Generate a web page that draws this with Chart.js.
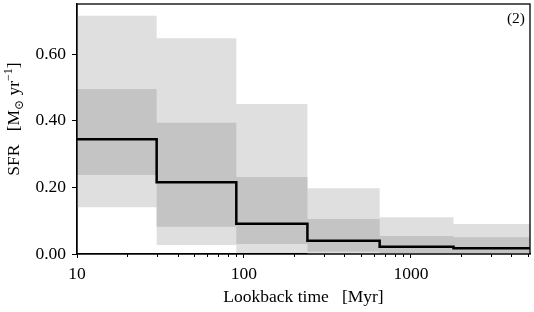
<!DOCTYPE html>
<html>
<head>
<meta charset="utf-8">
<script src="https://cdn.jsdelivr.net/npm/chart.js@4.4.0/dist/chart.umd.min.js"></script>
<style>
    html, body { margin: 0; padding: 0; background: #fff; }
    #wrap { width: 534px; height: 312px; }
</style>
</head>
<body>
<div id="wrap"><canvas id="sfrChart"></canvas></div>
<script>
// bin edges in Myr (last value closes the final step)
const binEdges = [10, 30, 90, 240, 650, 1800, 5170];
const sfrMedian = [0.344, 0.215, 0.091, 0.040, 0.022, 0.017];
const sfrInnerHigh = [0.495, 0.394, 0.231, 0.105, 0.054, 0.050];
const sfrInnerLow = [0.237, 0.082, 0.030, 0.007, 0.003, 0.003];
const sfrOuterHigh = [0.715, 0.647, 0.450, 0.197, 0.110, 0.090];
const sfrOuterLow = [0.140, 0.027, 0.003, 0.001, 0.001, 0.001];
const yTicks = [0, 0.2, 0.4, 0.6];
const xTicks = [10, 100, 1000];
const xMinorTicks = [20, 30, 40, 50, 60, 70, 80, 90, 200, 300, 400, 500, 600, 700, 800, 900, 2000, 3000, 4000, 5000];
const panelLabel = '(2)';

const font = "'Liberation Serif', 'DejaVu Serif', serif";

function steps(values) {
    const pts = values.map((v, i) => ({ x: binEdges[i], y: v }));
    pts.push({ x: binEdges[binEdges.length - 1], y: values[values.length - 1] });
    return pts;
}

// y title with subscript / superscript, drawn rotated
function drawYTitle(ctx, cx, cy) {
    const parts = [
        { t: 'SFR   [M', s: 17.5, dy: 0 },
        { t: '\u2299', s: 12, dy: 4 },
        { t: ' yr', s: 17.5, dy: 0 },
        { t: '\u22121', s: 12, dy: -7 },
        { t: ']', s: 17.5, dy: 0 }
    ];
    let total = 0;
    parts.forEach(p => { ctx.font = p.s + 'px ' + font; p.w = ctx.measureText(p.t).width; total += p.w; });
    ctx.save();
    ctx.translate(cx, cy);
    ctx.rotate(-Math.PI / 2);
    ctx.fillStyle = '#000';
    ctx.textBaseline = 'alphabetic';
    ctx.textAlign = 'left';
    let x = -total / 2;
    parts.forEach(p => {
        ctx.font = p.s + 'px ' + font;
        ctx.fillText(p.t, x, 6 + p.dy);
        x += p.w;
    });
    ctx.restore();
}

const extras = {
    id: 'extras',
    afterDraw(chart) {
        const ctx = chart.ctx;
        const a = chart.chartArea;
        const xs = chart.scales.x;
        ctx.save();
        ctx.strokeStyle = '#000';
        ctx.lineWidth = 1;
        xMinorTicks.forEach(v => {
            const px = Math.round(xs.getPixelForValue(v)) + 0.5;
            ctx.beginPath();
            ctx.moveTo(px, a.bottom);
            ctx.lineTo(px, a.bottom + 3);
            ctx.stroke();
        });
        ctx.lineWidth = 1.3;
        ctx.strokeRect(a.left, a.top, a.right - a.left, a.bottom - a.top);
        ctx.fillStyle = '#000';
        ctx.font = '15.5px ' + font;
        ctx.textAlign = 'right';
        ctx.textBaseline = 'middle';
        ctx.fillText(panelLabel, a.right - 5, a.top + 15);
        ctx.restore();
        drawYTitle(ctx, 13, 119);
    }
};

new Chart(document.getElementById('sfrChart'), {
    type: 'line',
    data: {
        datasets: [
            { data: steps(sfrMedian), borderColor: '#000', borderWidth: 2.5, stepped: true, pointRadius: 0, fill: false },
            { data: steps(sfrInnerHigh), borderWidth: 0, borderColor: 'rgba(0,0,0,0)', backgroundColor: '#c4c4c4', stepped: true, pointRadius: 0, fill: 2 },
            { data: steps(sfrInnerLow), borderWidth: 0, borderColor: 'rgba(0,0,0,0)', stepped: true, pointRadius: 0, fill: false },
            { data: steps(sfrOuterHigh), borderWidth: 0, borderColor: 'rgba(0,0,0,0)', backgroundColor: '#dfdfdf', stepped: true, pointRadius: 0, fill: 4 },
            { data: steps(sfrOuterLow), borderWidth: 0, borderColor: 'rgba(0,0,0,0)', stepped: true, pointRadius: 0, fill: false }
        ]
    },
    options: {
        responsive: true,
        maintainAspectRatio: false,
        animation: false,
        layout: { padding: { top: 4, right: 4, left: 0, bottom: 0 } },
        plugins: {
            legend: { display: false },
            tooltip: { enabled: false }
        },
        scales: {
            x: {
                type: 'logarithmic',
                min: 10,
                max: 5170,
                afterBuildTicks: s => { s.ticks = xTicks.map(v => ({ value: v })); },
                afterFit: s => { s.height = 58; s.paddingLeft = 0; s.paddingRight = 0; },
                ticks: {
                    color: '#000',
                    font: { family: font, size: 17.5 },
                    padding: 6,
                    maxRotation: 0,
                    autoSkip: false,
                    callback: v => String(v)
                },
                grid: { drawOnChartArea: false, tickLength: 4, tickColor: '#000' },
                border: { color: '#000', width: 1.3 },
                title: {
                    display: true,
                    text: 'Lookback time   [Myr]',
                    color: '#000',
                    font: { family: font, size: 17.5 },
                    padding: { top: 0, bottom: 4 }
                }
            },
            y: {
                min: 0,
                max: 0.75,
                afterBuildTicks: s => { s.ticks = yTicks.map(v => ({ value: v })); },
                afterFit: s => { s.width = 77; s.paddingTop = 0; s.paddingBottom = 0; },
                ticks: {
                    color: '#000',
                    font: { family: font, size: 17.5 },
                    padding: 6,
                    callback: v => v.toFixed(2)
                },
                grid: { drawOnChartArea: false, tickLength: 5, tickColor: '#000' },
                border: { color: '#000', width: 1.3 }
            }
        }
    },
    plugins: [extras]
});
</script>
</body>
</html>
